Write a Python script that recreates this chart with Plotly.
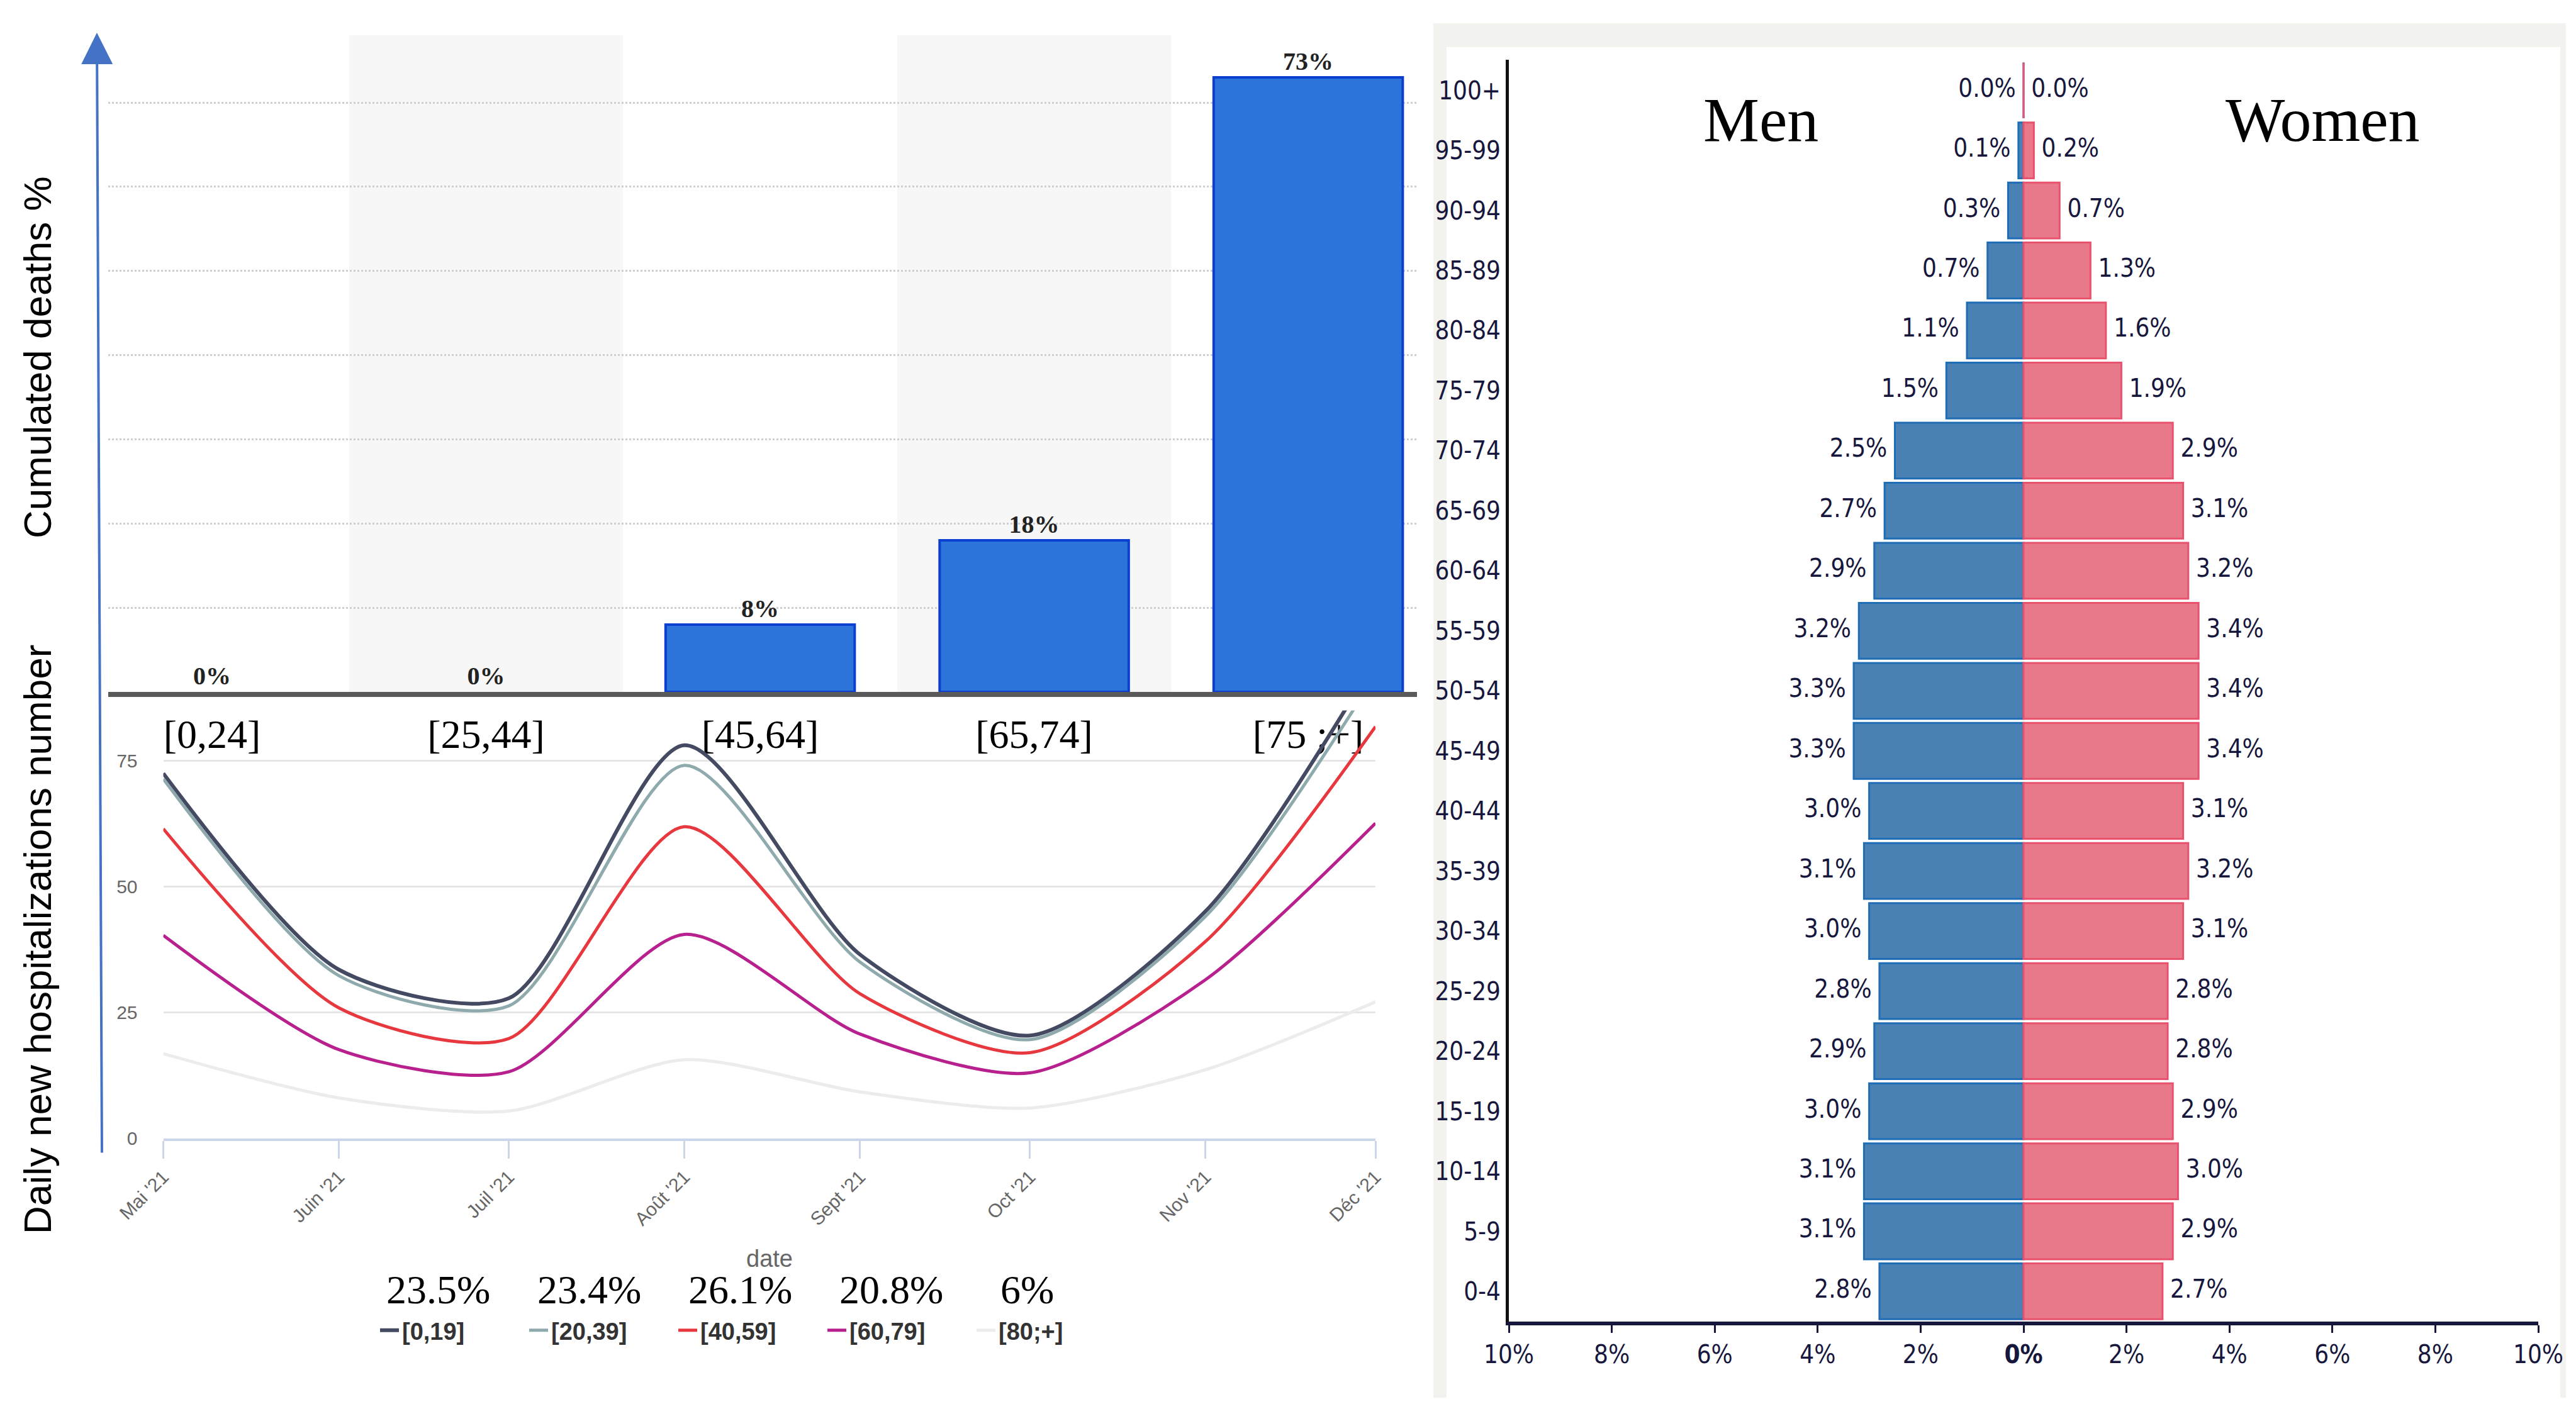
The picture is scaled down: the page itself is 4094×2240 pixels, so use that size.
import plotly.graph_objects as go

W, H = 4094, 2240

# --- top-left: cumulated deaths by age group
death_groups = ["[0,24]", "[25,44]", "[45,64]", "[65,74]", "[75 ;+]"]
death_pct = [0, 0, 8, 18, 73]

# --- bottom-left: daily new hospitalizations (monthly points)
months = ["2021-05-01", "2021-06-01", "2021-07-01", "2021-08-01",
          "2021-09-01", "2021-10-01", "2021-11-01", "2021-12-01"]
month_labels = ["Mai '21", "Juin '21", "Juil '21", "Août '21",
                "Sept '21", "Oct '21", "Nov '21", "Déc '21"]
hosp_groups = ["[0,19]", "[20,39]", "[40,59]", "[60,79]", "[80;+]"]
hosp_share = ["23.5%", "23.4%", "26.1%", "20.8%", "6%"]
hosp_0_19 = [72.5, 33.5, 27.8, 78.1, 36.5, 20.4, 45.1, 95]
hosp_20_39 = [71.4, 32.3, 26.3, 74.1, 35.0, 19.6, 44.1, 92]
hosp_40_59 = [61.5, 25.9, 19.8, 61.9, 28.7, 17.0, 39.1, 81.8]
hosp_60_79 = [40.3, 17.6, 13.2, 40.5, 20.7, 13.0, 31.5, 62.6]
hosp_80_plus = [16.8, 8.0, 5.4, 15.6, 9.2, 6.0, 13.6, 27.1]
hosp_colors = ["#434a62", "#8eaaad", "#e8383f", "#b8208e", "#ececec"]

# --- right: population pyramid (bottom to top)
age_bands = ["0-4", "5-9", "10-14", "15-19", "20-24", "25-29", "30-34", "35-39",
             "40-44", "45-49", "50-54", "55-59", "60-64", "65-69", "70-74",
             "75-79", "80-84", "85-89", "90-94", "95-99", "100+"]
men_pct = [2.8, 3.1, 3.1, 3.0, 2.9, 2.8, 3.0, 3.1, 3.0, 3.3, 3.3,
           3.2, 2.9, 2.7, 2.5, 1.5, 1.1, 0.7, 0.3, 0.1, 0.0]
women_pct = [2.7, 2.9, 3.0, 2.9, 2.8, 2.8, 3.1, 3.2, 3.1, 3.4, 3.4,
             3.4, 3.2, 3.1, 2.9, 1.9, 1.6, 1.3, 0.7, 0.2, 0.0]
pyr_ticks = [-10, -8, -6, -4, -2, 0, 2, 4, 6, 8, 10]

SERIF = "Liberation Serif, Times New Roman, serif"
SANS = "Liberation Sans, Arial, sans-serif"
NARROW = "Liberation Sans Narrow, DejaVu Sans Condensed, Liberation Sans, sans-serif"
NAVY = "#17173d"


def px(v):
    return v / W


def py(v):
    return 1 - v / H


fig = go.Figure()

fig.add_trace(go.Bar(
    x=death_groups, y=death_pct, width=0.69,
    marker=dict(color="#2d74da",
                line=dict(color="#0b3fcf", width=[4 if v > 0 else 0 for v in death_pct])),
    text=[f"{v}%" for v in death_pct], textposition="outside",
    textfont=dict(family=SERIF, size=40, color="#222", weight="bold"),
    cliponaxis=False, showlegend=False, xaxis="x", yaxis="y"))

for name, vals, col in zip(hosp_groups,
                           [hosp_0_19, hosp_20_39, hosp_40_59, hosp_60_79, hosp_80_plus],
                           hosp_colors):
    fig.add_trace(go.Scatter(
        x=months, y=vals, mode="lines", name=name,
        line=dict(color=col, width=6 if name == "[0,19]" else 5, shape="spline", smoothing=0.75),
        xaxis="x2", yaxis="y2"))

fig.add_trace(go.Bar(
    x=[-v for v in men_pct], y=age_bands, orientation="h",
    marker=dict(color="#4a81b4", line=dict(color="#1f6db5", width=3)),
    showlegend=False, xaxis="x3", yaxis="y3"))
fig.add_trace(go.Bar(
    x=women_pct, y=age_bands, orientation="h",
    marker=dict(color="#e8798a", line=dict(color="#e8526c", width=3)),
    showlegend=False, xaxis="x3", yaxis="y3"))
# value labels beside the bar ends (invisible markers give the gap)
fig.add_trace(go.Scatter(
    x=[-v for v in men_pct], y=age_bands, mode="markers+text",
    marker=dict(size=18, opacity=0),
    text=[f"{v:.1f}%" for v in men_pct], textposition="middle left",
    textfont=dict(family=NARROW, size=40, color=NAVY),
    cliponaxis=False, showlegend=False, hoverinfo="skip", xaxis="x3", yaxis="y3"))
fig.add_trace(go.Scatter(
    x=women_pct, y=age_bands, mode="markers+text",
    marker=dict(size=18, opacity=0),
    text=[f"{v:.1f}%" for v in women_pct], textposition="middle right",
    textfont=dict(family=NARROW, size=40, color=NAVY),
    cliponaxis=False, showlegend=False, hoverinfo="skip", xaxis="x3", yaxis="y3"))

shapes = [
    # grey frame of the pyramid panel
    dict(type="rect", xref="paper", yref="paper", layer="below",
         x0=px(2270), x1=px(4070), y0=py(2214), y1=py(29),
         fillcolor="#f2f2ef", line=dict(width=0)),
    dict(type="rect", xref="paper", yref="paper", layer="below",
         x0=px(2291), x1=px(4061), y0=py(2214), y1=py(67),
         fillcolor="white", line=dict(width=0)),
]
for c in (0.5, 2.5):
    shapes.append(dict(type="rect", xref="x", yref="y", layer="below",
                       x0=c, x1=c + 1, y0=0, y1=78,
                       fillcolor="#f7f7f7", line=dict(width=0)))


def label(text, x, y, size, family, color="black", angle=0):
    return dict(text=text, x=px(x), y=py(y), xref="paper", yref="paper",
                xanchor="center", yanchor="middle", textangle=angle, showarrow=False,
                font=dict(family=family, size=size, color=color))


annotations = [
    label("Cumulated deaths %", 51, 560, 62, SANS, angle=-90),
    label("Daily new hospitalizations number", 51, 1486, 62, SANS, angle=-90),
    dict(text="", x=px(146), y=py(44), xref="paper", yref="paper",
         showarrow=True, ax=8, ay=1782, axref="pixel", ayref="pixel",
         arrowhead=2, arrowsize=2.5, arrowwidth=4, arrowcolor="#4472c4"),
    label("date", 1215, 1993, 38, SANS, color="#666"),
    label("Men", 2790, 183, 100, SERIF),
    label("Women", 3683, 183, 100, SERIF),
]
share_x = [688, 928, 1168, 1408, 1624]
for s, xx in zip(hosp_share, share_x):
    annotations.append(label(s, xx, 2042, 64, SERIF))

fig.update_layout(
    template="none",
    width=W, height=H,
    margin=dict(l=0, r=0, t=0, b=0),
    paper_bgcolor="white", plot_bgcolor="rgba(0,0,0,0)",
    barmode="overlay", bargap=0.07,
    shapes=shapes, annotations=annotations,
    legend=dict(orientation="h", x=px(591), xanchor="left", y=py(2107), yanchor="middle",
                entrywidth=192, entrywidthmode="pixels", bgcolor="rgba(0,0,0,0)",
                font=dict(family=SANS, size=38, color="#333", weight="bold")),
    xaxis=dict(domain=[px(164), px(2244)], anchor="y", type="category", automargin=False,
               range=[-0.379, 4.397], showline=True, linecolor="#5a5a5a", linewidth=8,
               ticks="", showgrid=False, zeroline=False, ticklabelstandoff=4,
               tickfont=dict(family=SERIF, size=64, color="black")),
    yaxis=dict(domain=[py(1092), py(48)], anchor="x", range=[0, 78], automargin=False,
               tickvals=[10, 20, 30, 40, 50, 60, 70], showticklabels=False,
               showgrid=True, gridcolor="#cfcfcf", gridwidth=3, griddash="dot",
               zeroline=False, showline=False, ticks=""),
    xaxis2=dict(domain=[px(251.5), px(2178)], anchor="y2", type="date", automargin=False,
                range=[months[0], months[-1]], tickvals=months, ticktext=month_labels,
                tickangle=-45, ticks="outside", ticklen=28, tickwidth=3, tickcolor="#ccd6eb",
                showline=True, linecolor="#ccd6eb", linewidth=4, showgrid=False,
                zeroline=False, tickfont=dict(family=SANS, size=30, color="#666")),
    yaxis2=dict(domain=[py(1801.5), py(1121.5)], anchor="x2", range=[0, 85], automargin=False,
                tickvals=[0, 25, 50, 75], showgrid=True, gridcolor="#e6e6e6", gridwidth=3,
                zeroline=False, showline=False, ticks="", ticklabelstandoff=40,
                tickfont=dict(family=SANS, size=30, color="#666")),
    xaxis3=dict(domain=[px(2390), px(4026)], anchor="y3", range=[-10, 10], automargin=False,
                tickvals=pyr_ticks,
                ticktext=[f"{abs(v)}%" if v else "<b>0%</b>" for v in pyr_ticks],
                showline=True, linecolor=NAVY, linewidth=6, ticks="outside", ticklen=12,
                tickwidth=3, tickcolor=NAVY, showgrid=False, zeroline=False,
                tickfont=dict(family=NARROW, size=40, color=NAVY)),
    yaxis3=dict(domain=[py(2092.7), py(86.9)], anchor="x3", type="category", automargin=False,
                categoryorder="array", categoryarray=age_bands, range=[-0.5, 20.51],
                showline=True, linecolor="#111", linewidth=5, ticks="", showgrid=False,
                zeroline=False, tickfont=dict(family=NARROW, size=40, color=NAVY)),
)

fig.write_html("out.html")
